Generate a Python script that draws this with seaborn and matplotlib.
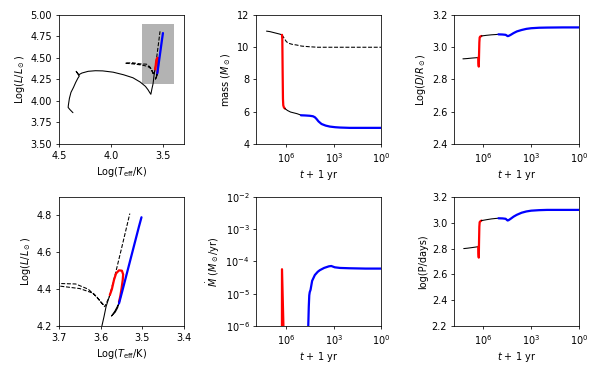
import numpy as np
import pandas as pd
import seaborn as sns
import matplotlib
matplotlib.use("Agg")
import matplotlib.pyplot as plt
from matplotlib.patches import Rectangle
from matplotlib.ticker import NullLocator

# ---------------- HR diagram data (log Teff, log L) ----------------
hr_black1_T = [4.366, 4.395, 4.412, 4.41, 4.40, 4.385, 4.36, 4.34, 4.319, 4.305, 4.335, 4.31,
               4.28, 4.22, 4.15, 4.08, 3.98, 3.88, 3.79, 3.72, 3.67, 3.645, 3.63, 3.618,
               3.608, 3.597, 3.592, 3.587, 3.582, 3.578]
hr_black1_L = [3.864, 3.90, 3.925, 3.95, 4.03, 4.10, 4.16, 4.215, 4.264, 4.29, 4.345, 4.305,
               4.325, 4.345, 4.352, 4.35, 4.335, 4.305, 4.27, 4.22, 4.17, 4.13, 4.10, 4.078,
               4.14, 4.20, 4.25, 4.305, 4.34, 4.368]
hr_red_T = [3.578, 3.573, 3.568, 3.563, 3.556, 3.549, 3.546, 3.547, 3.550, 3.553, 3.556]
hr_red_L = [4.368, 4.40, 4.45, 4.485, 4.502, 4.50, 4.48, 4.45, 4.40, 4.36, 4.33]
hr_black2_T = [3.556, 3.559, 3.565, 3.574, 3.566, 3.559, 3.556]
hr_black2_L = [4.33, 4.30, 4.275, 4.254, 4.28, 4.31, 4.322]
hr_blue_T = [3.556, 3.548, 3.540, 3.532, 3.524, 3.516, 3.508, 3.502]
hr_blue_L = [4.322, 4.39, 4.46, 4.53, 4.60, 4.67, 4.74, 4.79]
hr_dash_T = [3.593, 3.605, 3.618, 3.65, 3.70, 3.78, 3.866, 3.80, 3.72, 3.66, 3.63, 3.61,
             3.598, 3.59, 3.585, 3.579, 3.565, 3.55, 3.53]
hr_dash_L = [4.315, 4.345, 4.378, 4.403, 4.417, 4.43, 4.44, 4.445, 4.432, 4.428, 4.40, 4.36,
             4.325, 4.305, 4.33, 4.36, 4.48, 4.62, 4.81]

# ---------------- time series: log10(t + 1 yr) ----------------
# mass
m_black1_lt = [7.21, 7.0, 6.8, 6.6, 6.4, 6.24]
m_black1 = [11.0, 10.97, 10.92, 10.87, 10.82, 10.77]
m_red_lt = [6.24, 6.22, 6.20, 6.18, 6.16, 6.12, 6.06]
m_red = [10.77, 10.5, 8.5, 6.8, 6.4, 6.27, 6.2]
m_black2_lt = [6.06, 5.9, 5.7, 5.5, 5.3, 5.1, 5.05]
m_black2 = [6.2, 6.08, 5.98, 5.93, 5.88, 5.81, 5.78]
m_blue_lt = [5.05, 4.8, 4.5, 4.3, 4.18, 4.08, 3.95, 3.76, 3.5, 3.24, 2.9, 2.6, 2.0, 1.0, 0.0]
m_blue = [5.78, 5.77, 5.75, 5.72, 5.66, 5.56, 5.40, 5.24, 5.14, 5.08, 5.04, 5.02, 5.0, 5.0, 5.0]
m_dash_lt = [6.24, 6.1, 5.96, 5.8, 5.6, 5.33, 5.0, 4.5, 4.0, 3.0, 2.0, 1.0, 0.0]
m_dash = [10.77, 10.55, 10.34, 10.24, 10.18, 10.14, 10.07, 10.03, 10.0, 10.0, 10.0, 10.0, 10.0]

# log separation
d_black1_lt = [7.28, 7.0, 6.7, 6.31]
d_black1 = [2.928, 2.93, 2.933, 2.936]
d_red_lt = [6.31, 6.30, 6.285, 6.27, 6.25, 6.23, 6.20, 6.15, 6.12]
d_red = [2.936, 2.90, 2.88, 2.95, 3.03, 3.06, 3.066, 3.068, 3.07]
d_black2_lt = [6.12, 5.8, 5.5, 5.2, 5.05]
d_black2 = [3.07, 3.074, 3.077, 3.079, 3.08]
d_blue_lt = [5.05, 4.8, 4.6, 4.52, 4.48, 4.42, 4.3, 4.1, 3.9, 3.6, 3.3, 3.0, 2.5, 2.0, 1.0, 0.0]
d_blue = [3.08, 3.079, 3.077, 3.072, 3.069, 3.07, 3.076, 3.088, 3.098, 3.107, 3.114, 3.118,
          3.121, 3.122, 3.123, 3.123]

# mass-loss rate (log10 Msun/yr)
md_red_lt = [6.245, 6.24, 6.10]
md_red = [-7.5, -4.24, -7.0]
md_blue_lt = [4.62, 4.56, 4.53, 4.50, 4.45, 4.35, 4.18, 4.0, 3.87, 3.6, 3.3, 3.15, 2.93, 2.6,
              2.0, 1.0, 0.0]
md_blue = [-6.5, -5.4, -5.05, -4.95, -4.88, -4.6, -4.42, -4.32, -4.27, -4.2, -4.15, -4.14,
           -4.18, -4.2, -4.21, -4.22, -4.22]

# log period
p_black1_lt = [7.23, 7.0, 6.7, 6.31]
p_black1 = [2.80, 2.803, 2.808, 2.815]
p_red_lt = [6.31, 6.30, 6.285, 6.27, 6.25, 6.23, 6.18, 6.12]
p_red = [2.815, 2.76, 2.73, 2.85, 2.97, 3.005, 3.012, 3.017]
p_black2_lt = [6.12, 5.8, 5.5, 5.2, 5.05]
p_black2 = [3.017, 3.024, 3.03, 3.034, 3.035]
p_blue_lt = [5.05, 4.8, 4.6, 4.52, 4.48, 4.42, 4.3, 4.1, 3.9, 3.6, 3.3, 3.0, 2.5, 2.0, 1.0, 0.0]
p_blue = [3.035, 3.034, 3.031, 3.022, 3.018, 3.02, 3.03, 3.048, 3.062, 3.078, 3.088, 3.094,
          3.098, 3.1, 3.1, 3.1]

sns.set_style("ticks", rc={"axes.edgecolor": "black", "xtick.color": "black",
                           "ytick.color": "black", "axes.labelcolor": "black",
                           "text.color": "black"})
plt.rcParams["font.family"] = ["DejaVu Sans"]
plt.rcParams["font.size"] = 10

DPI = 70
fig, axes = plt.subplots(2, 3, figsize=(600 / DPI, 375 / DPI), dpi=DPI)
fig.subplots_adjust(left=0.0983, right=0.965, bottom=0.1307, top=0.96,
                    wspace=0.58, hspace=0.411)

THIN = 1.1
THICK = 2.3


def line(ax, x, y, color="black", lw=THIN, ls="-"):
    sns.lineplot(x=x, y=y, ax=ax, sort=False, estimator=None, color=color,
                 linewidth=lw, linestyle=ls)


def hr(ax):
    line(ax, hr_black1_T, hr_black1_L)
    line(ax, hr_dash_T, hr_dash_L, ls="--")
    line(ax, hr_red_T, hr_red_L, color="red", lw=THICK)
    line(ax, hr_black2_T, hr_black2_L)
    line(ax, hr_blue_T, hr_blue_L, color="blue", lw=THICK)


# panel 1: full HR
ax = axes[0, 0]
ax.add_patch(Rectangle((3.4, 4.2), 0.3, 0.7, facecolor="0.7", edgecolor="none", zorder=0))
hr(ax)
ax.set_xlim(4.5, 3.3)
ax.set_ylim(3.5, 5.0)
ax.set_xticks([4.5, 4.0, 3.5])
ax.set_yticks([3.5, 3.75, 4.0, 4.25, 4.5, 4.75, 5.0])
ax.set_yticklabels(["3.50", "3.75", "4.00", "4.25", "4.50", "4.75", "5.00"])
ax.set_xlabel(r"Log($T_{\rm eff}$/K)")
ax.set_ylabel(r"Log($L/L_\odot$)")

# panel 4: zoomed HR
ax = axes[1, 0]
hr(ax)
ax.set_xlim(3.7, 3.4)
ax.set_ylim(4.2, 4.9)
ax.set_xticks([3.7, 3.6, 3.5, 3.4])
ax.set_yticks([4.2, 4.4, 4.6, 4.8])
ax.set_xlabel(r"Log($T_{\rm eff}$/K)")
ax.set_ylabel(r"Log($L/L_\odot$)")


def tx(v):
    return [10.0 ** a for a in v]


def time_axis(ax):
    ax.set_xscale("log")
    ax.set_xlim(10 ** 7.84, 1.0)
    ax.set_xticks([1e6, 1e3, 1e0])
    ax.xaxis.set_minor_locator(NullLocator())
    ax.set_xlabel(r"$t$ + 1 yr")


# panel 2: mass
ax = axes[0, 1]
time_axis(ax)
line(ax, tx(m_black1_lt), m_black1)
line(ax, tx(m_dash_lt), m_dash, ls="--")
line(ax, tx(m_red_lt), m_red, color="red", lw=THICK)
line(ax, tx(m_black2_lt), m_black2)
line(ax, tx(m_blue_lt), m_blue, color="blue", lw=THICK)
ax.set_ylim(4, 12)
ax.set_yticks([4, 6, 8, 10, 12])
ax.set_ylabel(r"mass ($M_\odot$)")
time_axis(ax)

# panel 3: separation
ax = axes[0, 2]
time_axis(ax)
line(ax, tx(d_black1_lt), d_black1)
line(ax, tx(d_red_lt), d_red, color="red", lw=THICK)
line(ax, tx(d_black2_lt), d_black2)
line(ax, tx(d_blue_lt), d_blue, color="blue", lw=THICK)
ax.set_ylim(2.4, 3.2)
ax.set_yticks([2.4, 2.6, 2.8, 3.0, 3.2])
ax.set_ylabel(r"Log($D/R_\odot$)")
time_axis(ax)

# panel 5: mass-loss rate
ax = axes[1, 1]
time_axis(ax)
ax.set_yscale("log")
line(ax, tx(md_red_lt), tx(md_red), color="red", lw=THICK)
line(ax, tx(md_blue_lt), tx(md_blue), color="blue", lw=THICK)
ax.set_ylim(1e-6, 1e-2)
ax.set_yticks([1e-6, 1e-5, 1e-4, 1e-3, 1e-2])
ax.yaxis.set_minor_locator(NullLocator())
ax.set_ylabel(r"$\dot{M}$ ($M_\odot$/yr)")
time_axis(ax)

# panel 6: period
ax = axes[1, 2]
time_axis(ax)
line(ax, tx(p_black1_lt), p_black1)
line(ax, tx(p_red_lt), p_red, color="red", lw=THICK)
line(ax, tx(p_black2_lt), p_black2)
line(ax, tx(p_blue_lt), p_blue, color="blue", lw=THICK)
ax.set_ylim(2.2, 3.2)
ax.set_yticks([2.2, 2.4, 2.6, 2.8, 3.0, 3.2])
ax.set_ylabel("log(P/days)")
time_axis(ax)

for a in axes.flat:
    for s in a.spines.values():
        s.set_visible(True)
        s.set_color("black")
        s.set_linewidth(0.8)
    leg = a.get_legend()
    if leg is not None:
        leg.remove()

fig.savefig("out.png", dpi=DPI)
